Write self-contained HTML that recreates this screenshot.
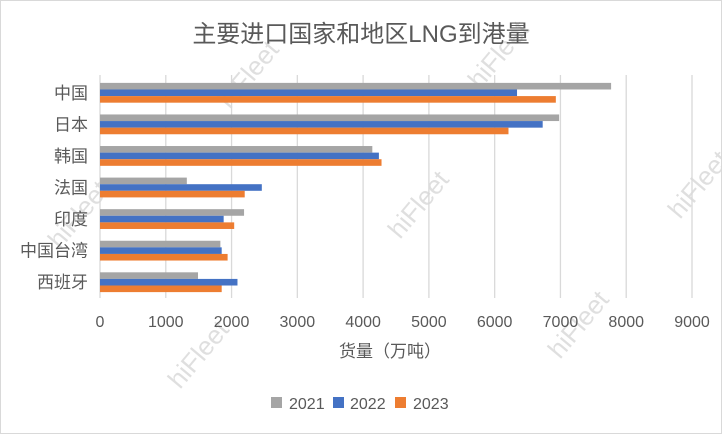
<!DOCTYPE html>
<html><head><meta charset="utf-8"><style>
body{margin:0;background:#fff}
svg{display:block;font-family:"Liberation Sans","Noto Sans CJK SC",sans-serif}
</style></head><body>
<svg id="chart" width="722" height="434" viewBox="0 0 722 434">
<rect x="0.5" y="0.5" width="721" height="433" fill="#fff" stroke="#d9d9d9"/>
<g id="wm" fill="#d8d8d8" font-size="26" opacity="0.8"></g>
<text x="361" y="42" text-anchor="middle" font-size="24" fill="#595959">主要进口国家和地区LNG到港量</text>
<g id="grid"></g>
<g id="bars"></g>
<g id="labels"></g>
<text x="390" y="357" text-anchor="middle" font-size="17" fill="#595959">货量（万吨）</text>
<g font-size="16" fill="#595959">
<g><rect x="271" y="397" width="11" height="11" fill="#a5a5a5"/><text x="289" y="409">2021</text></g>
<g><rect x="333" y="397" width="11" height="11" fill="#4472c4"/><text x="350" y="409">2022</text></g>
<g><rect x="395" y="397" width="11" height="11" fill="#ed7d31"/><text x="413" y="409">2023</text></g>
</g>
</svg>
<script>
const categories=["中国","日本","韩国","法国","印度","中国台湾","西班牙"];
const s2021=[7770,6980,4140,1320,2190,1830,1490];
const s2022=[6340,6730,4240,2460,1880,1850,2090];
const s2023=[6930,6210,4280,2200,2040,1940,1850];
const ticks=[0,1000,2000,3000,4000,5000,6000,7000,8000,9000];
const NS="http://www.w3.org/2000/svg";
const x0=100,x1=692,xmax=9000,plotTop=77,plotBottom=298;
const xs=v=>x0+(x1-x0)*v/xmax;
const band=(plotBottom-plotTop)/categories.length;
const ys=i=>plotTop+band*(i+0.5);
function mk(tag,at,parent){const e=document.createElementNS(NS,tag);for(const k in at)e.setAttribute(k,at[k]);parent.appendChild(e);return e;}
const grid=document.getElementById('grid'),bars=document.getElementById('bars'),labels=document.getElementById('labels'),wm=document.getElementById('wm');
[[230,110],[480,90],[560,360],[180,390],[400,240],[680,220],[760,120],[60,250]].forEach(p=>{
 const t=mk('text',{x:p[0],y:p[1],transform:`rotate(-50 ${p[0]} ${p[1]})`},wm);t.textContent='hiFleet';
 
 
});
ticks.forEach(t=>{
 const l=mk('line',{x1:xs(t),x2:xs(t),y1:plotTop-2,y2:plotBottom,stroke:'#d9d9d9','stroke-width':1.3},grid);
 
 
 const tx=mk('text',{x:xs(t),y:327,'text-anchor':'middle','font-size':16,fill:'#595959'},labels);
 tx.textContent=t;
 
 
});
const series=[[s2021,'#a5a5a5','2021'],[s2022,'#4472c4','2022'],[s2023,'#ed7d31','2023']];
const bh=6.6;
categories.forEach((c,i)=>{
 const cy=ys(i);
 series.forEach((s,j)=>{
  const r=mk('rect',{x:x0,y:cy-1.5*bh+j*bh,width:xs(s[0][i])-x0,height:bh,fill:s[1]},bars);
  
  
 });
 const t=mk('text',{x:88,y:cy+6,'text-anchor':'end','font-size':17,fill:'#595959'},labels);
 t.textContent=c;
 
 
});
</script>
</body></html>
